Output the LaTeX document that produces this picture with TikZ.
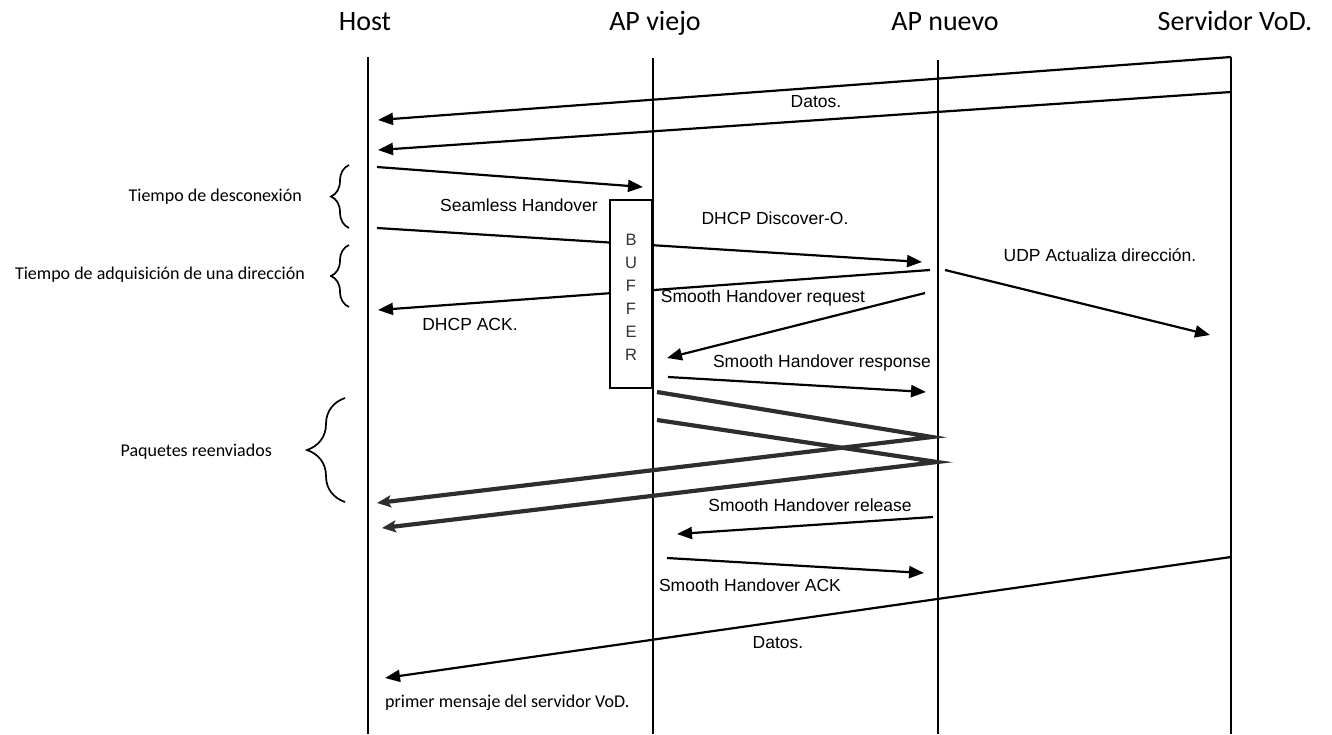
\documentclass[tikz,border=0pt]{standalone}
\usepackage{fontspec}
\setmainfont{Liberation Sans}
\newfontfamily\headfont{Carlito}
\usetikzlibrary{arrows.meta,decorations.pathreplacing}
\tikzset{
  lifeline/.style={line width=1.7pt},
  msg/.style={line width=2.2pt,-{Triangle[length=15pt,width=12pt]}},
  fwd/.style={line width=4.2pt,draw=black!82,line join=miter},
  fwdarrow/.style={fwd,-{Stealth[length=14pt,width=12pt,inset=3pt]}},
  lbl/.style={font=\fontsize{17.5}{20}\selectfont,inner sep=0pt},
  head/.style={font=\headfont\fontsize{28}{31}\selectfont,inner sep=0pt,anchor=base},
  notetext/.style={font=\headfont\fontsize{18}{21}\selectfont,inner sep=0pt},
  notelbl/.style={notetext,anchor=east},
  bracebar/.style={line width=1.7pt,decorate,decoration={brace,amplitude=#1}},
  bufbox/.style={draw,line width=1.7pt,fill=white},
  bufletter/.style={font=\fontsize{16.5}{18}\selectfont,inner sep=0pt,text=black!80}
}
\begin{document}
\begin{tikzpicture}[x=1pt,y=-1pt]
\useasboundingbox (0,0) rectangle (1332,734);

% participants
\node[head] (hHost) at (365,30) {Host};
\node[head] (hOld) at (655,30) {AP viejo};
\node[head] (hNew) at (945,30) {AP nuevo};
\node[head] (hSrv) at (1235,30) {Servidor VoD.};

% lifelines
\coordinate (hostT) at (368,57);  \coordinate (hostB) at (368,734);
\coordinate (oldT)  at (653,58);  \coordinate (oldB)  at (653,734);
\coordinate (newT)  at (938,60);  \coordinate (newB)  at (938,734);
\coordinate (srvT)  at (1231,57); \coordinate (srvB)  at (1231,734);
\draw[lifeline] (hostT) -- (hostB);
\draw[lifeline] (oldT) -- (oldB);
\draw[lifeline] (newT) -- (newB);
\draw[lifeline] (srvT) -- (srvB);

% message end points
\coordinate (d1s) at (1231,57);  \coordinate (d1e) at (378,120);
\coordinate (d2s) at (1231,92);  \coordinate (d2e) at (378,150);
\coordinate (shs) at (377,167);  \coordinate (she) at (643,187);
\coordinate (dds) at (377,228);  \coordinate (dde) at (922,262);
\coordinate (das) at (930,270);  \coordinate (dae) at (378,310);
\coordinate (rqs) at (925,293);  \coordinate (rqe) at (667,358);
\coordinate (ups) at (945,270);  \coordinate (upe) at (1210,335);
\coordinate (rps) at (668,377);  \coordinate (rpe) at (926,392);
\coordinate (f1a) at (657,392);  \coordinate (f1b) at (932,437); \coordinate (f1c) at (377,503);
\coordinate (f2a) at (657,420);  \coordinate (f2b) at (937,462); \coordinate (f2c) at (382,528);
\coordinate (rls) at (933,517);  \coordinate (rle) at (677,534);
\coordinate (aks) at (667,558);  \coordinate (ake) at (924,573);
\coordinate (d3s) at (1231,557); \coordinate (d3e) at (385,678);

% data from the server
\draw[msg] (d1s) -- (d1e);
\draw[msg] (d2s) -- (d2e);
\node[lbl] (tDatos1) at (816,102) {Datos.};

% handover start
\draw[msg] (shs) -- (she);
\node[lbl] (tSeam) at (519,205) {Seamless Handover};

% DHCP exchange (passes behind the buffer)
\draw[msg] (dds) -- (dde);
\draw[msg] (das) -- (dae);
\node[lbl] (tDisc) at (775,218) {DHCP Discover-O.};
\node[lbl] (tAck) at (470,324) {DHCP ACK.};

% buffer at the old AP
\node[bufbox,minimum width=42pt,minimum height=188pt,inner sep=0pt] (buf) at (631,294) {};
\foreach \l [count=\i] in {B,U,F,F,E,R}
  \node[bufletter] (buf\i) at (631,{240+23*(\i-1)}) {\l};

% smooth handover signalling
\draw[msg] (rqs) -- (rqe);
\node[lbl] (tReq) at (763,298) {Smooth Handover request};
\draw[msg] (rps) -- (rpe);
\node[lbl] (tRsp) at (822,363) {Smooth Handover response};

% address update towards the server
\draw[msg] (ups) -- (upe);
\node[lbl] (tUdp) at (1100,255) {UDP Actualiza dirección.};

% forwarded packets
\draw[fwdarrow] (f1a) -- (f1b) -- (f1c);
\draw[fwdarrow] (f2a) -- (f2b) -- (f2c);

% release and acknowledgement
\node[lbl] (tRel) at (810,505) {Smooth Handover release};
\draw[msg] (rls) -- (rle);
\draw[msg] (aks) -- (ake);
\node[lbl] (tSAck) at (750,585) {Smooth Handover ACK};

% first data after the handover
\draw[msg] (d3s) -- (d3e);
\node[lbl] (tDatos2) at (778,643) {Datos.};
\node[notetext,anchor=west] (tFirst) at (385,703) {primer mensaje del servidor VoD.};

% time intervals on the host side
\draw[bracebar=18pt] (349,228) -- (349,165);
\node[notelbl] (nDisc) at (302,197) {Tiempo de desconexión};
\draw[bracebar=18pt] (349,307) -- (349,245);
\node[notelbl] (nAddr) at (305,275) {Tiempo de adquisición de una dirección};
\draw[bracebar=38pt] (345,502) -- (345,398);
\node[notelbl] (nPkt) at (272,452) {Paquetes reenviados};
\end{tikzpicture}
\end{document}
